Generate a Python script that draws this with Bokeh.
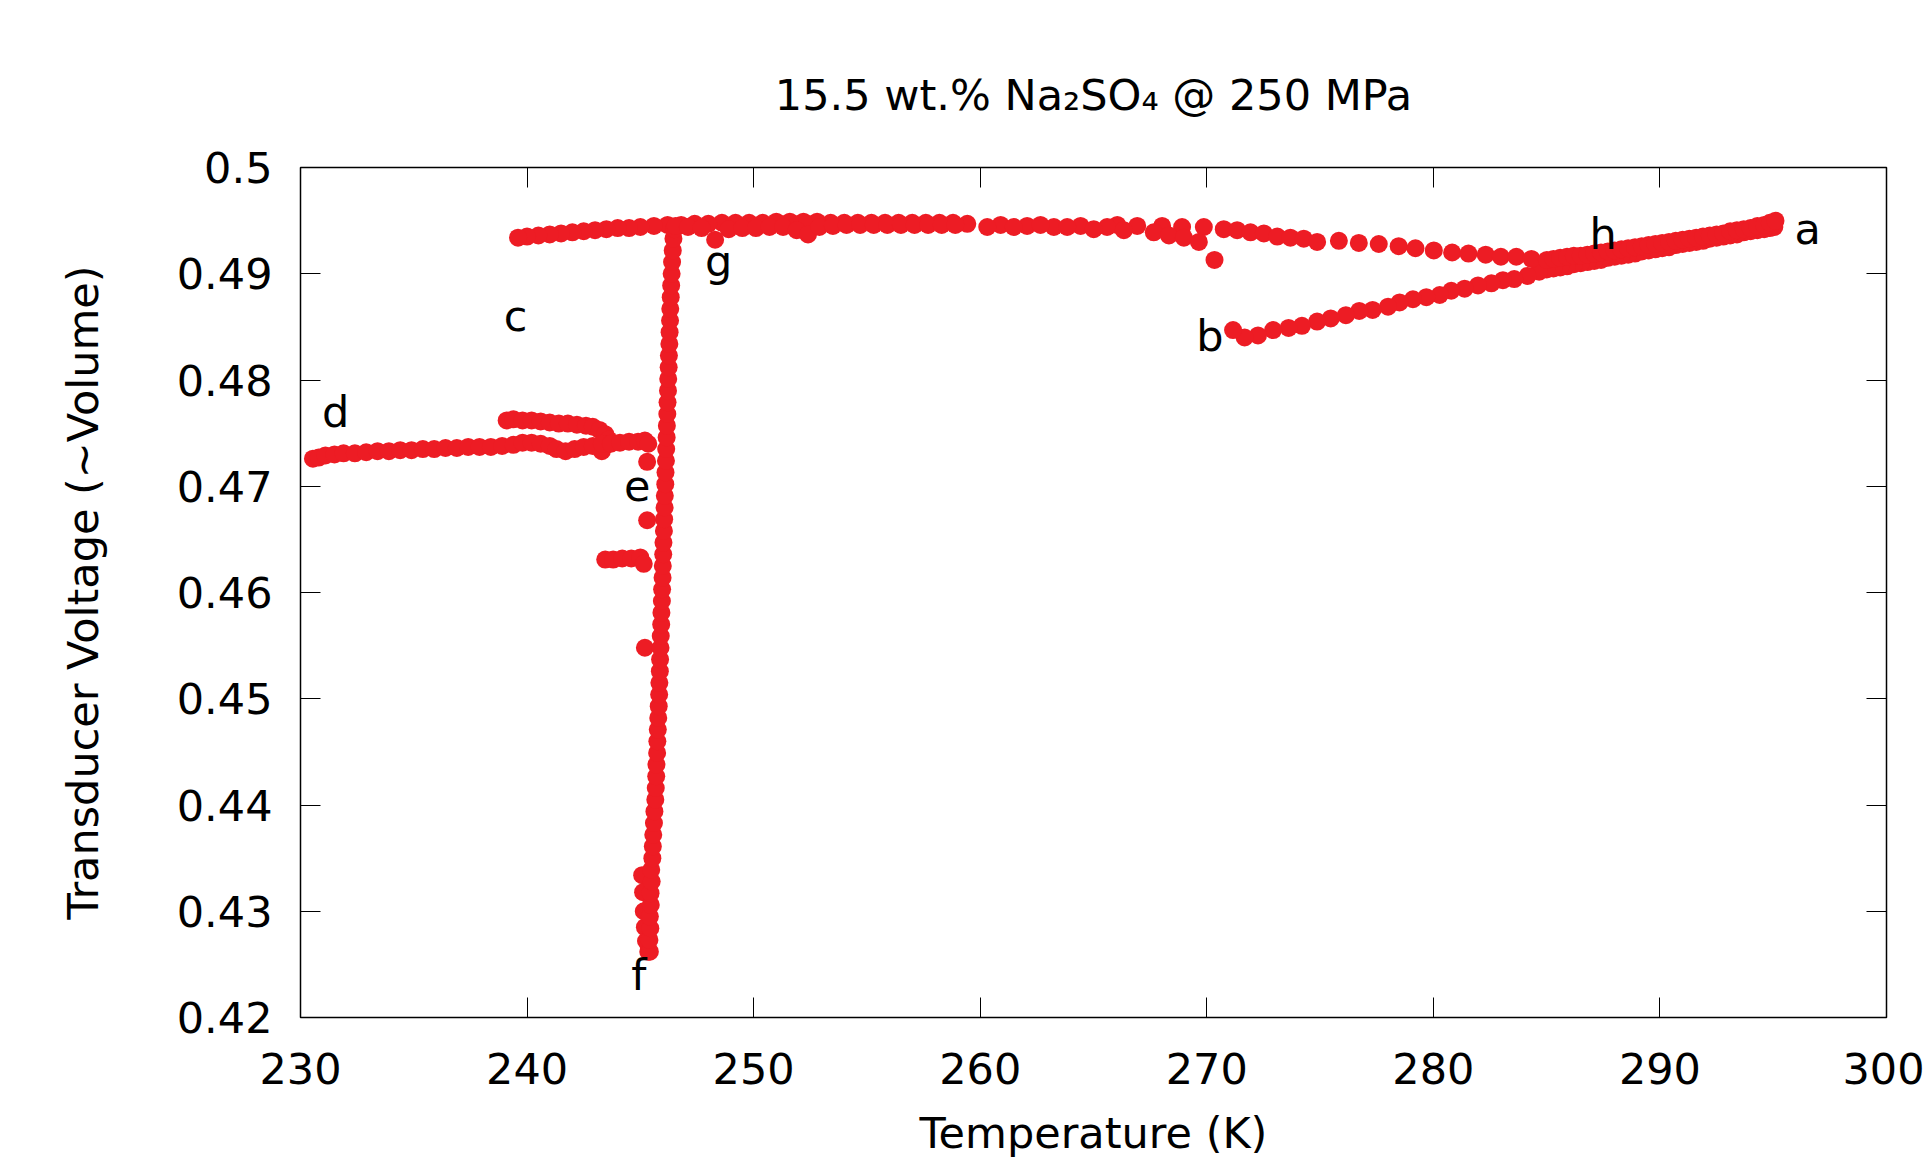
from bokeh.plotting import figure
from bokeh.models import (LinearAxis, FixedTicker, CustomJSTickFormatter, ColumnDataSource,
                          CustomLabelingPolicy)
from bokeh.core.properties import value
from bokeh.embed import file_html
from bokeh.resources import INLINE

# ---------------- data ----------------
# a -> b : cooling branch (temperature K, transducer voltage)
ab_T = [295.05, 294.85, 294.6, 294.3, 294.0, 293.7, 293.4, 293.1, 292.8, 292.5, 292.2, 291.9,
        291.6, 291.3, 291.0, 290.7, 290.4, 290.1, 289.8, 289.5, 289.2, 288.9, 288.6, 288.3,
        288.0, 287.7, 287.4, 287.1, 286.8, 286.5, 286.2, 285.9, 285.6, 285.3, 285.0,
        284.67, 284.16, 283.57, 283.07, 282.56, 281.97, 281.38, 280.79, 280.28, 279.69, 279.10,
        278.51, 278.00, 277.32, 276.73, 276.14, 275.47, 274.87, 274.20, 273.61, 272.93, 272.26,
        271.67, 271.16]
ab_V = [0.4944, 0.4943, 0.4942, 0.4941, 0.4940, 0.4939, 0.4937, 0.4936, 0.4935, 0.4934, 0.4933, 0.4931,
        0.4930, 0.4929, 0.4928, 0.4927, 0.4925, 0.4924, 0.4923, 0.4922, 0.4921, 0.4919, 0.4918, 0.4917,
        0.4916, 0.4915, 0.4913, 0.4912, 0.4911, 0.4910, 0.4909, 0.4907, 0.4906, 0.4905, 0.4904,
        0.4902, 0.4898, 0.4895, 0.4894, 0.4891, 0.4889, 0.4886, 0.4884, 0.4880, 0.4878, 0.4876,
        0.4873, 0.4869, 0.4866, 0.4865, 0.4861, 0.4858, 0.4855, 0.4851, 0.4849, 0.4847, 0.4842,
        0.4840, 0.4847]

# b -> c : upper cooling branch
bc_T = [270.75, 270.34, 269.87, 268.91, 268.03, 266.93, 266.05, 265.60, 264.43, 263.25, 262.07,
        260.90, 259.43, 258.8, 258.2, 257.6, 257.0, 256.4, 255.8, 255.2, 254.6, 254.0, 253.4,
        252.8, 252.2, 251.6, 251.0, 250.4, 249.8, 249.2, 248.6, 248.0, 247.4, 246.8, 246.2,
        245.6, 245.0, 244.5, 244.0, 243.5, 243.0, 242.5, 242.0, 241.5, 241.0, 240.5, 240.0, 239.6]
bc_V = [0.4942, 0.4913, 0.4944, 0.4944, 0.4945, 0.4945, 0.4946, 0.4944, 0.4945, 0.4944, 0.4945,
        0.4946, 0.4947, 0.4948, 0.4948, 0.4948, 0.4948, 0.4948, 0.4948, 0.4948, 0.4948, 0.4948, 0.4948,
        0.4949, 0.4949, 0.4949, 0.4949, 0.4948, 0.4948, 0.4948, 0.4948, 0.4947, 0.4947, 0.4946, 0.4946,
        0.4945, 0.4944, 0.4943, 0.4943, 0.4942, 0.4941, 0.4940, 0.4939, 0.4938, 0.4937, 0.4936, 0.4935, 0.4934]

# c -> d : short branch near 0.476
cd_T = [239.1, 239.4, 239.8, 240.2, 240.6, 241.0, 241.4, 241.8, 242.2, 242.6, 242.9, 243.2,
        243.45, 243.6, 243.5, 243.3]
cd_V = [0.4762, 0.4763, 0.4762, 0.4762, 0.4761, 0.4760, 0.4759, 0.4759, 0.4758, 0.4757, 0.4756, 0.4753,
        0.4749, 0.4744, 0.4739, 0.4733]

# d -> e : low temperature branch
de_T = [230.55, 230.8, 231.1, 231.5, 231.9, 232.4, 232.9, 233.4, 233.9, 234.4, 234.9, 235.4,
        235.9, 236.4, 236.9, 237.4, 237.9, 238.4, 238.9, 239.4, 239.8, 240.2, 240.6, 241.0,
        241.3, 241.7, 242.1, 242.5, 242.9, 243.3, 243.7, 244.1, 244.5, 244.9, 245.2, 245.35]
de_V = [0.4726, 0.4727, 0.4729, 0.4730, 0.4731, 0.4731, 0.4732, 0.4733, 0.4733, 0.4734, 0.4734, 0.4735,
        0.4735, 0.4736, 0.4736, 0.4737, 0.4737, 0.4737, 0.4738, 0.4739, 0.4741, 0.4741, 0.4740, 0.4738,
        0.4735, 0.4733, 0.4735, 0.4737, 0.4738, 0.4740, 0.4740, 0.4741, 0.4742, 0.4742, 0.4743, 0.4740]

# e -> f : drop
ef_T = [245.3, 245.3, 245.2, 245.08, 245.12, 245.15, 245.2, 245.25, 245.35,
        243.45, 243.8, 244.2, 244.6, 245.0, 245.15]
ef_V = [0.4723, 0.4668, 0.4548, 0.4334, 0.4318, 0.4300, 0.4285, 0.4272, 0.4262,
        0.4631, 0.4631, 0.4632, 0.4632, 0.4633, 0.4627]

# f -> g : steep rise
fg_T = [245.42, 245.40, 245.44, 245.42, 245.46, 245.45, 245.50, 245.48, 245.53, 245.55, 245.57, 245.60,
        245.62, 245.66, 245.68, 245.70, 245.71, 245.74, 245.75, 245.77, 245.79, 245.81, 245.83, 245.84,
        245.86, 245.87, 245.89, 245.90, 245.92, 245.93, 245.95, 245.96, 245.98, 245.99, 246.01, 246.02,
        246.04, 246.05, 246.07, 246.08, 246.10, 246.11, 246.13, 246.14, 246.16, 246.17, 246.19, 246.20,
        246.22, 246.23, 246.25, 246.26, 246.28, 246.29, 246.31, 246.32, 246.34, 246.36, 246.38, 246.40,
        246.43, 246.46, 246.50]
fg_V = [0.4262, 0.4273, 0.4284, 0.4295, 0.4306, 0.4317, 0.4328, 0.4339, 0.4350, 0.4361, 0.4372, 0.4383,
        0.4394, 0.4405, 0.4416, 0.4427, 0.4438, 0.4449, 0.4460, 0.4471, 0.4482, 0.4493, 0.4504, 0.4515,
        0.4526, 0.4537, 0.4548, 0.4559, 0.4570, 0.4581, 0.4592, 0.4603, 0.4614, 0.4625, 0.4636, 0.4647,
        0.4658, 0.4669, 0.4680, 0.4691, 0.4702, 0.4713, 0.4724, 0.4735, 0.4746, 0.4757, 0.4768, 0.4779,
        0.4790, 0.4801, 0.4812, 0.4823, 0.4834, 0.4845, 0.4856, 0.4867, 0.4878, 0.4889, 0.4900, 0.4911,
        0.4922, 0.4933, 0.4942]

# g -> h : upper warming branch
gh_T = [246.55, 247.1, 247.7, 248.3, 248.9, 249.5, 250.1, 250.7, 251.3, 251.9, 252.4, 252.9, 253.5,
        254.1, 254.7, 255.3, 255.9, 256.5, 257.1, 257.7, 258.3, 258.9, 260.31, 261.48, 262.66, 263.84,
        265.01, 266.34, 267.66, 268.33, 268.99, 269.65, 271.34, 271.93, 272.52, 273.11, 273.69, 274.28,
        274.87, 275.83, 276.71, 277.59, 278.47, 279.21, 280.02, 280.83, 281.55, 282.31, 282.98, 283.66,
        284.33, 285.01]
gh_V = [0.4945, 0.4944, 0.4943, 0.4932, 0.4942, 0.4943, 0.4943, 0.4944, 0.4944, 0.4941, 0.4937, 0.4944, 0.4945,
        0.4946, 0.4946, 0.4946, 0.4946, 0.4946, 0.4946, 0.4946, 0.4946, 0.4946, 0.4944, 0.4944, 0.4946, 0.4944,
        0.4942, 0.4941, 0.4939, 0.4936, 0.4934, 0.4930, 0.4941, 0.4939, 0.4938, 0.4935, 0.4934, 0.4933,
        0.4930, 0.4931, 0.4929, 0.4928, 0.4926, 0.4924, 0.4922, 0.4920, 0.4919, 0.4918, 0.4916, 0.4916,
        0.4914, 0.4913]

# h -> a : warming back to room temperature
ha_T = [285.3, 285.6, 285.9, 286.2, 286.5, 286.8, 287.1, 287.4, 287.7, 288.0, 288.3, 288.6, 288.9,
        289.2, 289.5, 289.8, 290.1, 290.4, 290.7, 291.0, 291.3, 291.6, 291.9, 292.2, 292.5, 292.8,
        293.1, 293.4, 293.7, 294.0, 294.3, 294.6, 294.85, 295.1]
ha_V = [0.4914, 0.4915, 0.4916, 0.4917, 0.4917, 0.4918, 0.4919, 0.4920, 0.4921, 0.4922, 0.4923, 0.4924, 0.4925,
        0.4926, 0.4927, 0.4928, 0.4929, 0.4930, 0.4931, 0.4932, 0.4933, 0.4934, 0.4935, 0.4936, 0.4937, 0.4938,
        0.4940, 0.4941, 0.4942, 0.4943, 0.4945, 0.4946, 0.4948, 0.4950]

# point labels
label_text = ["a", "b", "c", "d", "e", "f", "g", "h"]
label_T = [296.52, 270.14, 239.49, 231.55, 244.86, 244.93, 248.46, 287.49]
label_V = [0.49424, 0.48412, 0.48602, 0.47703, 0.47004, 0.42397, 0.49119, 0.49370]

x_ticks = [230, 240, 250, 260, 270, 280, 290, 300]
y_ticks = [0.42, 0.43, 0.44, 0.45, 0.46, 0.47, 0.48, 0.49, 0.50]

title_text = "15.5 wt.% Na\u2082SO\u2084 @ 250 MPa"
x_label = "Temperature (K)"
y_label = "Transducer Voltage (~Volume)"

# ---------------- figure ----------------
FONT = "DejaVu Sans"
FS = "43px"
RED = "#ed1c24"

p = figure(width=1924, height=1160, x_range=(230, 300), y_range=(0.42, 0.5),
           output_backend="svg", toolbar_location=None,
           min_border_left=300, min_border_right=38, min_border_top=167, min_border_bottom=142)
p.background_fill_color = "white"
p.border_fill_color = "white"
p.outline_line_color = "black"
p.outline_line_width = 1.5
p.xgrid.visible = False
p.ygrid.visible = False

p.title.text = title_text
p.title.align = "center"
p.title.text_font = FONT
p.title.text_font_size = FS
p.title.text_font_style = "normal"
p.title.text_color = "black"
p.title.standoff = 88

fmt = CustomJSTickFormatter(code="return String(Number(tick.toFixed(2)));")

def style_axis(ax, show_labels):
    ax.axis_line_color = "black"
    ax.axis_line_width = 1
    ax.major_tick_in = 20
    ax.major_tick_out = 0
    ax.major_tick_line_color = "black"
    ax.major_tick_line_width = 1
    ax.minor_tick_line_color = None
    ax.major_label_text_font = FONT
    ax.major_label_text_color = "black"
    if show_labels:
        ax.major_label_text_font_size = FS
    else:
        ax.major_label_text_font_size = "1px"
        ax.major_label_standoff = 0
        ax.major_label_policy = CustomLabelingPolicy(code="return [];")

p.xaxis.ticker = FixedTicker(ticks=x_ticks)
p.yaxis.ticker = FixedTicker(ticks=y_ticks)
p.yaxis.formatter = fmt
style_axis(p.xaxis[0], True)
style_axis(p.yaxis[0], True)
p.xaxis.major_label_standoff = 35
p.yaxis.major_label_standoff = 28
p.xaxis.axis_label = x_label
p.yaxis.axis_label = y_label
for ax in (p.xaxis[0], p.yaxis[0]):
    ax.axis_label_text_font = FONT
    ax.axis_label_text_font_size = FS
    ax.axis_label_text_font_style = "normal"
    ax.axis_label_text_color = "black"
p.xaxis.axis_label_standoff = 21
p.yaxis.axis_label_standoff = 66

top_ax = LinearAxis(ticker=FixedTicker(ticks=x_ticks))
style_axis(top_ax, False)
p.add_layout(top_ax, "above")
right_ax = LinearAxis(ticker=FixedTicker(ticks=y_ticks))
style_axis(right_ax, False)
p.add_layout(right_ax, "right")

all_T = ab_T + bc_T + cd_T + de_T + ef_T + fg_T + gh_T + ha_T
all_V = ab_V + bc_V + cd_V + de_V + ef_V + fg_V + gh_V + ha_V
src = ColumnDataSource(dict(T=all_T, V=all_V))
p.scatter("T", "V", source=src, size=18, marker="circle", fill_color=RED, line_color=RED, line_width=0)

lsrc = ColumnDataSource(dict(x=label_T, y=label_V, t=label_text))
p.text("x", "y", text="t", source=lsrc, text_font=value(FONT), text_font_size=FS,
       text_align="center", text_baseline="alphabetic", text_color="black")

open("out.html", "w").write(file_html(p, INLINE))
